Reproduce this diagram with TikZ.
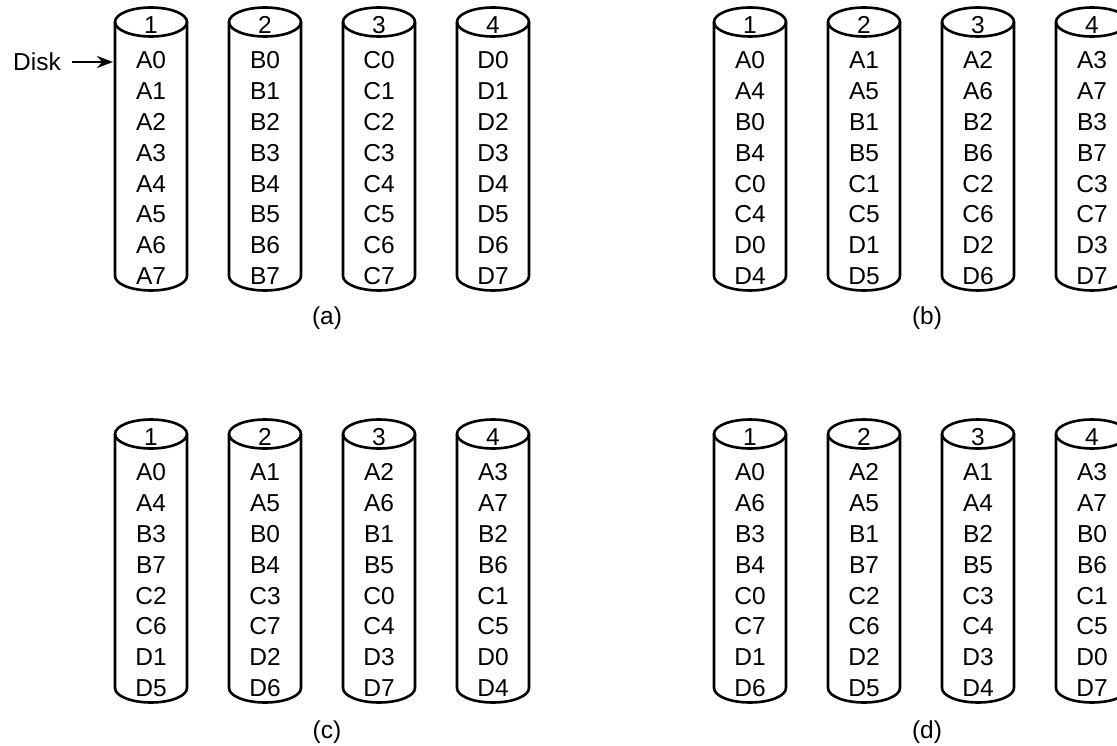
\documentclass[tikz,border=0pt]{standalone}
\usepackage{fontspec}
\setmainfont{Liberation Sans}
\usetikzlibrary{arrows.meta}
\newcommand\diskset[4]{% #1 name prefix, #2 x offset, #3 y offset, #4 contents
  \foreach \col [count=\i] in {#4} {
    \pgfmathsetmacro\cx{#2+151+114*(\i-1)}
    \draw[cyl] (\cx,#3+22) ellipse [x radius=36pt, y radius=14.5pt];
    \draw[cyl] (\cx-36,#3+22) -- (\cx-36,#3+276)
      arc[start angle=180, end angle=360, x radius=36pt, y radius=14.5pt] -- (\cx+36,#3+22);
    \node[lbl] (#1h\i) at (\cx,#3+25) {\i};
    \foreach \cell [count=\r] in \col {
      \node[lbl] (#1c\i-\r) at (\cx,#3+60+30.9*\r-30.9) {\cell};
    }
  }
}
\begin{document}
\begin{tikzpicture}[x=1pt,y=-1pt,
  lbl/.style={font=\fontsize{24.5}{29}\selectfont, inner sep=0pt},
  cyl/.style={line width=2.6pt},
  arr/.style={line width=2.6pt,-{Stealth[length=16pt,width=12pt]}}]
\useasboundingbox (0,0) rectangle (1117,746);
\diskset{a}{0}{0}{{A0,A1,A2,A3,A4,A5,A6,A7},{B0,B1,B2,B3,B4,B5,B6,B7},{C0,C1,C2,C3,C4,C5,C6,C7},{D0,D1,D2,D3,D4,D5,D6,D7}}
\diskset{b}{599}{0}{{A0,A4,B0,B4,C0,C4,D0,D4},{A1,A5,B1,B5,C1,C5,D1,D5},{A2,A6,B2,B6,C2,C6,D2,D6},{A3,A7,B3,B7,C3,C7,D3,D7}}
\diskset{c}{0}{412}{{A0,A4,B3,B7,C2,C6,D1,D5},{A1,A5,B0,B4,C3,C7,D2,D6},{A2,A6,B1,B5,C0,C4,D3,D7},{A3,A7,B2,B6,C1,C5,D0,D4}}
\diskset{d}{599}{412}{{A0,A6,B3,B4,C0,C7,D1,D6},{A2,A5,B1,B7,C2,C6,D2,D5},{A1,A4,B2,B5,C3,C4,D3,D4},{A3,A7,B0,B6,C1,C5,D0,D7}}
\node[lbl] (la) at (327,318) {(a)};
\node[lbl] (lb) at (927,318) {(b)};
\node[lbl] (lc) at (327,732) {(c)};
\node[lbl] (ld) at (927,732) {(d)};
\node[lbl,anchor=east] (disk) at (61,62) {Disk};
\coordinate (diskend) at (113,62);
\draw[arr] ([xshift=11pt]disk.east) -- (diskend);
\end{tikzpicture}
\end{document}
